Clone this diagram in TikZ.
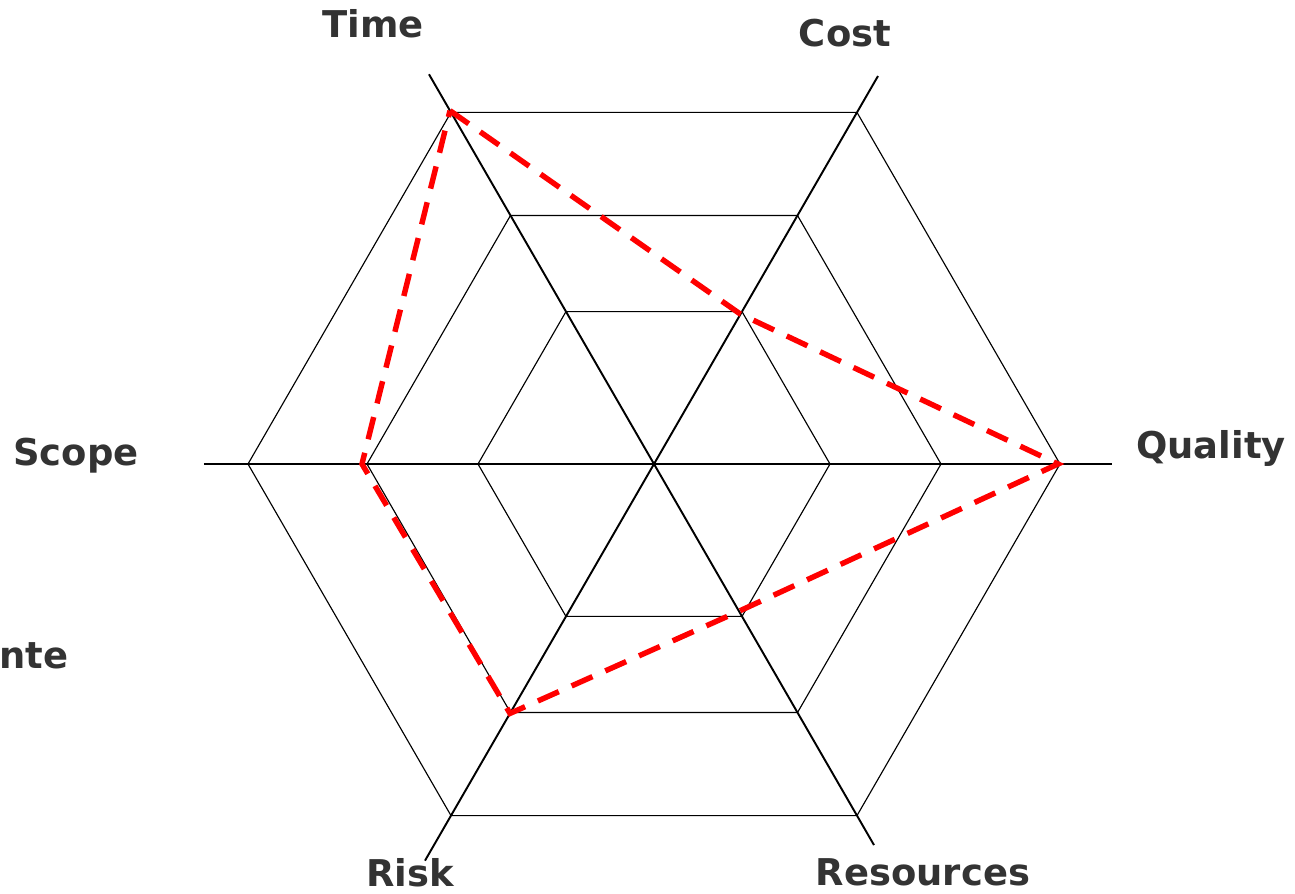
\documentclass[tikz,border=0pt]{standalone}
\usepackage{fontspec}
\setmainfont{DejaVu Sans}
\definecolor{labelgray}{HTML}{333333}
\begin{document}
\begin{tikzpicture}[x=0.02cm, y=0.02cm,
    axis/.style={line width=1.1pt},
    ring/.style={line width=0.65pt},
    plan/.style={red, line width=3.1pt, dash pattern=on 13pt off 8pt},
    lbl/.style={text=labelgray, font=\bfseries\fontsize{21}{25}\selectfont, inner sep=0pt, anchor=base}]
    \useasboundingbox (-654, -429) rectangle (641, 464);

    \draw[ring] (0:176) -- (60:176) -- (120:176) -- (180:176) -- (240:176) -- (300:176) -- cycle;
    \draw[ring] (0:287) -- (60:287) -- (120:287) -- (180:287) -- (240:287) -- (300:287) -- cycle;
    \draw[ring] (0:406) -- (60:406) -- (120:406) -- (180:406) -- (240:406) -- (300:406) -- cycle;

    \draw[axis] (180:450) -- (0:458);
    \draw[axis] (120:450) -- (300:440);
    \draw[axis] (60:448) -- (240:458);

    \coordinate (time) at (120:408);
    \coordinate (cost) at (60:173);
    \coordinate (quality) at (0:404);
    \coordinate (resources) at (300:170);
    \coordinate (risk) at (240:288);
    \coordinate (scope) at (180:292);
    \draw[plan] (time) -- (cost) -- (quality) -- (resources) -- (risk) -- (scope) -- cycle;

    \node[lbl] (timelbl) at (-281, 426) {Time};
    \node[lbl] (costlbl) at (191, 417) {Cost};
    \node[lbl] (scopelbl) at (-578, -1) {Scope};
    \node[lbl] (qualitylbl) at (557, 6) {Quality};
    \node[lbl] (risklbl) at (-244, -422) {Risk};
    \node[lbl] (resourceslbl) at (269, -421) {Resources};
    \node[lbl, anchor=base east] (cutlbl) at (-585, -204) {nte};
\end{tikzpicture}
\end{document}
